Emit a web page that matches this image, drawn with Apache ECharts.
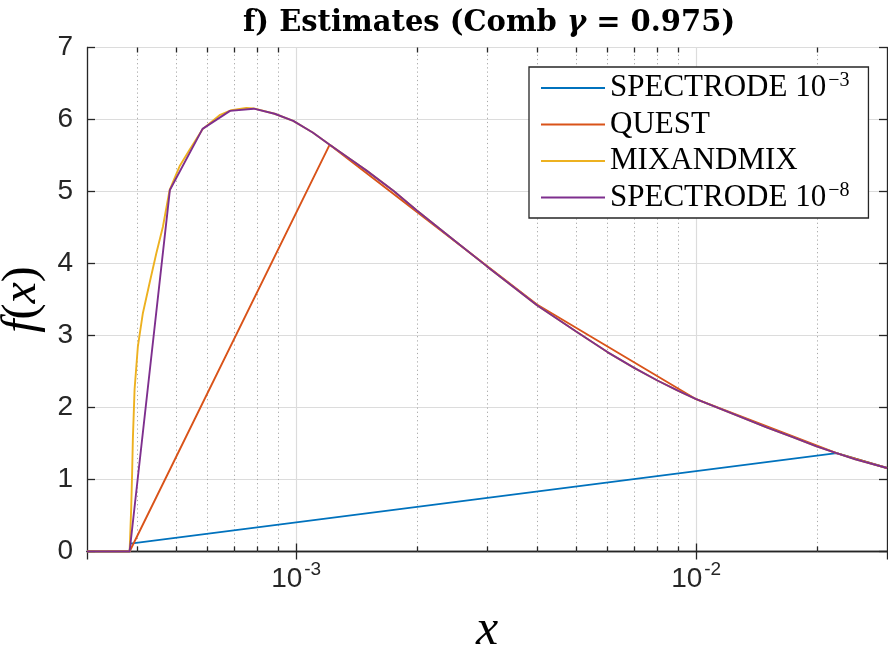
<!DOCTYPE html>
<html>
<head>
<meta charset="utf-8">
<script src="https://cdn.jsdelivr.net/npm/echarts@6/dist/echarts.min.js"></script>
<style>html,body{margin:0;padding:0;background:#fff;}#c{width:888px;height:659px;}</style>
</head>
<body>
<div id="c"></div>
<script>
// ---- data ----
const seriesNames = ['SPECTRODE 10^-3', 'QUEST', 'MIXANDMIX', 'SPECTRODE 10^-8'];
const legendLabels = ['SPECTRODE 10{s|\u22123}', 'QUEST', 'MIXANDMIX', 'SPECTRODE 10{s|\u22128}'];
const colors = ['#0072BD', '#D95319', '#EDB120', '#7E2F8E'];

const spec3X = [3e-4, 3.834e-4, 3.85e-4, 0.02244, 0.03];
const spec3Y = [0, 0, 0.11, 1.366, 1.16];

const questX = [3e-4, 3.834e-4, 1.213e-3, 4e-3, 1e-2, 0.02244, 0.03];
const questY = [0, 0, 5.65, 3.43, 2.115, 1.366, 1.16];

const mixX = [3e-4, 3.834e-4, 3.87e-4, 3.89e-4, 3.906e-4, 3.945e-4, 4.021e-4, 4.138e-4, 4.301e-4, 4.47e-4, 4.644e-4, 4.826e-4, 5.111e-4, 5.416e-4, 5.845e-4, 6.435e-4, 6.886e-4, 7.505e-4, 7.834e-4, 8.834e-4, 9.834e-4, 1.1e-3, 1.213e-3, 1.35e-3, 1.5e-3, 1.75e-3, 2e-3, 2.5e-3, 3e-3, 3.5e-3, 4e-3, 5e-3, 6e-3, 7e-3, 8e-3, 9e-3, 1e-2, 1.25e-2, 1.5e-2, 1.75e-2, 2e-2, 0.02244, 2.5e-2, 3e-2];
const mixY = [0, 0, 0.62, 1.09, 1.55, 2.25, 2.85, 3.31, 3.73, 4.14, 4.51, 5.02, 5.35, 5.58, 5.87, 6.06, 6.13, 6.16, 6.155, 6.08, 5.98, 5.82, 5.65, 5.47, 5.29, 5.01, 4.74, 4.31, 3.96, 3.67, 3.42, 3.06, 2.77, 2.55, 2.375, 2.235, 2.115, 1.9, 1.725, 1.585, 1.46, 1.366, 1.28, 1.16];

const spec8X = [3e-4, 3.834e-4, 4.834e-4, 5.834e-4, 6.834e-4, 7.834e-4, 8.834e-4, 9.834e-4, 1.1e-3, 1.213e-3, 1.35e-3, 1.5e-3, 1.75e-3, 2e-3, 2.5e-3, 3e-3, 3.5e-3, 4e-3, 5e-3, 6e-3, 7e-3, 8e-3, 9e-3, 1e-2, 1.25e-2, 1.5e-2, 1.75e-2, 2e-2, 0.02244, 2.5e-2, 3e-2];
const spec8Y = [0, 0, 5.02, 5.87, 6.12, 6.15, 6.08, 5.98, 5.82, 5.65, 5.47, 5.29, 5.01, 4.74, 4.31, 3.96, 3.67, 3.42, 3.06, 2.77, 2.55, 2.375, 2.235, 2.115, 1.9, 1.725, 1.585, 1.46, 1.366, 1.28, 1.16];

const minorTicks = [4e-4, 5e-4, 6e-4, 7e-4, 8e-4, 9e-4, 2e-3, 3e-3, 4e-3, 5e-3, 6e-3, 7e-3, 8e-3, 9e-3, 2e-2];
const xMin = 3e-4, xMax = 3e-2, yMin = 0, yMax = 7, yStep = 1;

// ---- chart ----
const zip = (xs, ys) => xs.map((x, i) => [x, ys[i]]);
const dataSets = [zip(spec3X, spec3Y), zip(questX, questY), zip(mixX, mixY), zip(spec8X, spec8Y)];
const AX = '#262626';
const sans = 'Liberation Sans';
const serif = 'Liberation Serif';

function xLabel(v) {
  const e = Math.log10(v), r = Math.round(e);
  if (Math.abs(e - r) > 1e-6) return '';
  return '{b|10}{s|' + (r < 0 ? '-' : '') + Math.abs(r) + '}';
}

const chart = echarts.init(document.getElementById('c'), null, {renderer: 'canvas'});
const lineSeries = dataSets.map((d, i) => ({
  name: seriesNames[i], type: 'line', data: d, xAxisIndex: 0, yAxisIndex: 0,
  symbol: 'none', showSymbol: false, clip: true, z: 3,
  lineStyle: {color: colors[i], width: 1.9}, itemStyle: {color: colors[i]}
}));

chart.setOption({
  animation: false,
  backgroundColor: '#fff',
  title: {
    text: '{b|f) Estimates (Comb }{g|\u03b3}{b| = 0.975)}',
    left: 484, top: 0, textAlign: 'center',
    textStyle: {
      rich: {
        b: {fontFamily: 'DejaVu Serif', fontWeight: 'bold', fontSize: 29, color: '#000', lineHeight: 36},
        g: {fontFamily: 'DejaVu Serif', fontWeight: 'bold', fontStyle: 'italic', fontSize: 29, color: '#000', lineHeight: 36}
      }
    }
  },
  legend: {
    data: seriesNames, orient: 'vertical', left: 529, top: 67,
    icon: 'rect', itemWidth: 64, itemHeight: 2, itemGap: 2.5,
    padding: [4, 19, 3.5, 12],
    borderColor: AX, borderWidth: 1.3, backgroundColor: '#fff',
    selectedMode: false,
    formatter: function (name) { return legendLabels[seriesNames.indexOf(name)]; },
    textStyle: {
      fontFamily: serif, fontSize: 31, color: '#000', lineHeight: 34,
      rich: {
        s: {fontFamily: serif, fontSize: 20, color: '#000', verticalAlign: 'top', padding: [0, 0, 0, 2]}
      }
    }
  },
  grid: {left: 87, top: 47.5, width: 800, height: 504, containLabel: false, outerBoundsMode: 'none'},
  xAxis: [{
    type: 'log', logBase: 10, min: xMin, max: xMax, position: 'bottom',
    name: 'x', nameLocation: 'middle', nameGap: 54,
    nameTextStyle: {fontFamily: serif, fontStyle: 'italic', fontSize: 50, color: '#000'},
    axisLine: {show: true, lineStyle: {color: AX, width: 1.3}},
    axisTick: {show: true, inside: true, length: 8, lineStyle: {color: AX, width: 1.3}},
    minorTick: {show: false},
    axisLabel: {
      margin: 14, formatter: xLabel, showMinLabel: false, showMaxLabel: false,
      rich: {
        b: {fontFamily: sans, fontSize: 28, color: AX, lineHeight: 28},
        s: {fontFamily: sans, fontSize: 19, color: AX, lineHeight: 8, padding: [0, 0, 20, 2]}
      }
    },
    splitLine: {show: true, lineStyle: {color: '#dcdcdc', width: 1.2}}
  }, {
    type: 'log', logBase: 10, min: xMin, max: xMax, position: 'top',
    axisLine: {show: true, lineStyle: {color: AX, width: 1.3}},
    axisTick: {show: true, inside: true, length: 8, lineStyle: {color: AX, width: 1.3}},
    axisLabel: {show: false}, splitLine: {show: false}
  }],
  yAxis: [{
    type: 'value', min: yMin, max: yMax, interval: yStep, position: 'left',
    name: '{i|f}{r|(}{i|x}{r|)}', nameLocation: 'middle', nameGap: 40, nameRotate: 90,
    nameTextStyle: {
      rich: {
        i: {fontFamily: serif, fontStyle: 'italic', fontSize: 48, color: '#000'},
        r: {fontFamily: serif, fontSize: 48, color: '#000'}
      }
    },
    axisLine: {show: true, lineStyle: {color: AX, width: 1.3}},
    axisTick: {show: true, inside: true, length: 8, lineStyle: {color: AX, width: 1.3}},
    axisLabel: {margin: 14, fontFamily: sans, fontSize: 28, color: AX},
    splitLine: {show: true, lineStyle: {color: '#dcdcdc', width: 1.2}}
  }, {
    type: 'value', min: yMin, max: yMax, interval: yStep, position: 'right',
    axisLine: {show: true, lineStyle: {color: AX, width: 1.3}},
    axisTick: {show: true, inside: true, length: 8, lineStyle: {color: AX, width: 1.3}},
    axisLabel: {show: false}, splitLine: {show: false}
  }],
  series: [{
    type: 'custom', name: 'minor', silent: true, z: 1, clip: false,
    xAxisIndex: 0, yAxisIndex: 0,
    data: minorTicks.map(v => [v, yMin]),
    encode: {x: 0, y: 1},
    renderItem: function (params, api) {
      const x = api.value(0);
      const b = api.coord([x, yMin]);
      const t = api.coord([x, yMax]);
      const px = Math.round(b[0]) + 0.5;
      return {
        type: 'group', children: [
          {type: 'line', shape: {x1: px, y1: b[1], x2: px, y2: t[1]}, style: {stroke: '#a8a8a8', lineWidth: 1, lineDash: [1.2, 3]}},
          {type: 'line', shape: {x1: px, y1: b[1], x2: px, y2: b[1] - 5}, style: {stroke: AX, lineWidth: 1.3}},
          {type: 'line', shape: {x1: px, y1: t[1], x2: px, y2: t[1] + 5}, style: {stroke: AX, lineWidth: 1.3}}
        ]
      };
    }
  }].concat(lineSeries)
});
</script>
</body>
</html>
